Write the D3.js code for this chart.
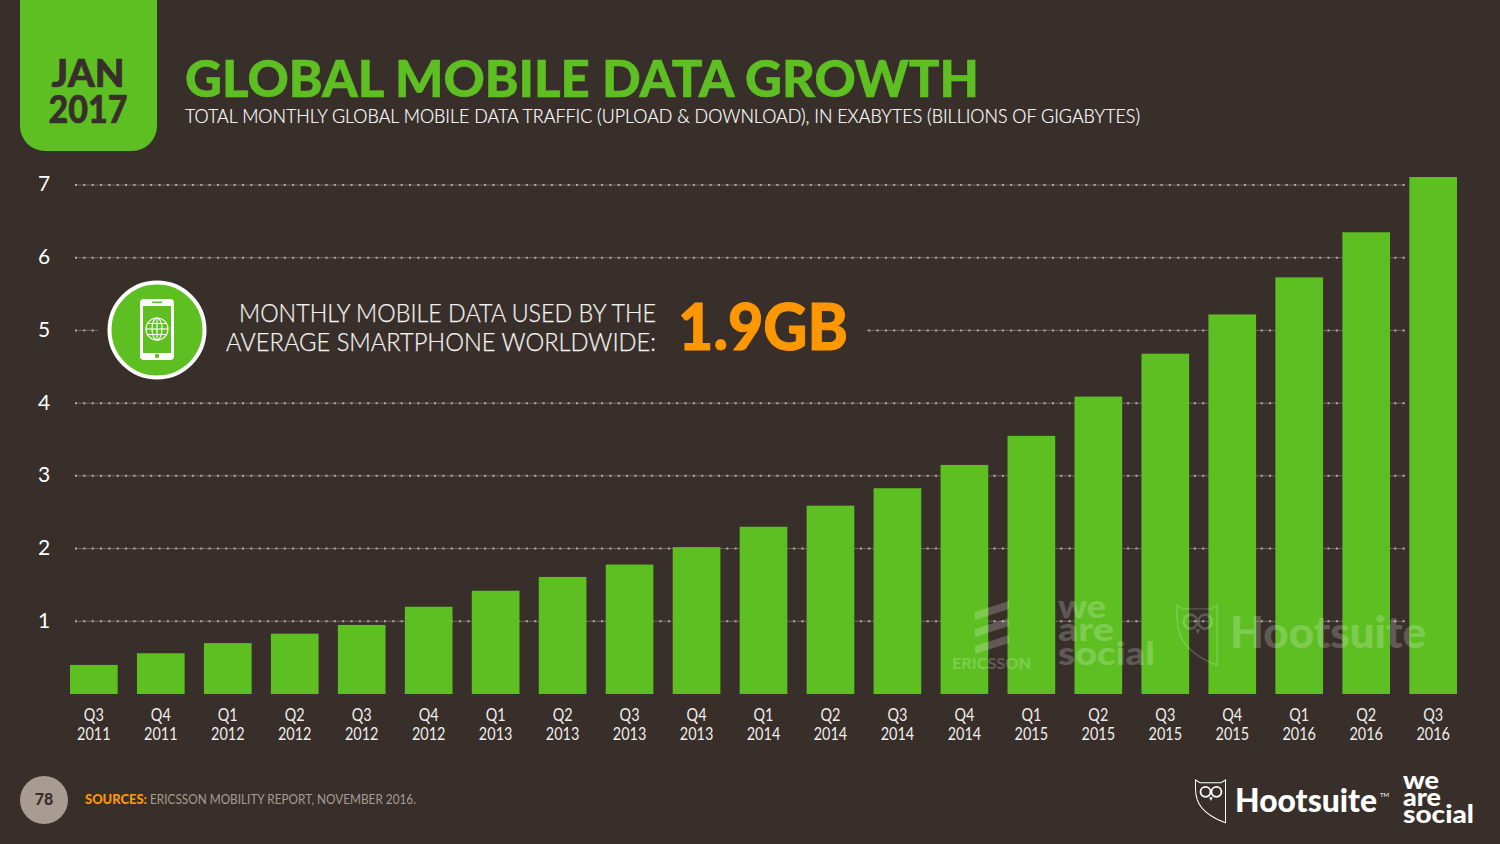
<!DOCTYPE html>
<html>
<head>
<meta charset="utf-8">
<script src="https://cdn.jsdelivr.net/npm/d3@7"></script>
<style>
  html, body { margin: 0; padding: 0; background: #382f2b; overflow: hidden; }
  svg { display: block; }
  text { font-family: Lato, "Open Sans", sans-serif; }
</style>
</head>
<body>
<svg id="chart" width="1500" height="844"></svg>
<script>
const quarters = ["Q3","Q4","Q1","Q2","Q3","Q4","Q1","Q2","Q3","Q4","Q1","Q2","Q3","Q4","Q1","Q2","Q3","Q4","Q1","Q2","Q3"];
const years = ["2011","2011","2012","2012","2012","2012","2013","2013","2013","2013","2014","2014","2014","2014","2015","2015","2015","2015","2016","2016","2016"];
const traffic = [0.4,0.56,0.7,0.83,0.95,1.2,1.42,1.61,1.78,2.02,2.3,2.59,2.83,3.15,3.55,4.09,4.68,5.22,5.73,6.35,7.11];
const yTicks = [1,2,3,4,5,6,7];

const GREEN = "#5ebf23", BG = "#382f2b", ORANGE = "#ff9800", WHITE = "#ffffff";

const svg = d3.select("#chart");
svg.append("rect").attr("width", 1500).attr("height", 844).attr("fill", BG);

const labels = quarters.map((q, i) => q + " " + years[i] + " " + i);
const x = d3.scaleBand().domain(labels).range([70, 1457]).paddingInner(0.288).paddingOuter(0);
const y = d3.scaleLinear().domain([0, 7]).range([694, 185]);

// Gridlines: faint line plus round dots
const grid = svg.append("g");
yTicks.forEach(t => {
    grid.append("line").attr("x1", 75).attr("x2", 1405).attr("y1", y(t)).attr("y2", y(t))
        .attr("stroke", "#6d635d").attr("stroke-width", 1);
    grid.append("line").attr("x1", 75).attr("x2", 1405).attr("y1", y(t)).attr("y2", y(t))
        .attr("stroke", "#b5aaa3").attr("stroke-width", 2)
        .attr("stroke-dasharray", "2 6.35");
});

// Y axis
const yAxis = svg.append("g").attr("transform", "translate(44,-1.5)")
    .call(d3.axisLeft(y).tickValues(yTicks).tickSize(0).tickPadding(0).tickFormat(d3.format("d")));
yAxis.select(".domain").remove();
yAxis.selectAll("text")
    .attr("x", 0).attr("dy", "0.35em").attr("text-anchor", "middle")
    .attr("fill", WHITE).style("font-family", "Lato").style("font-size", "21px");

// Bars
svg.append("g").selectAll("rect").data(traffic).join("rect")
    .attr("x", (d, i) => x(labels[i]))
    .attr("y", d => y(d))
    .attr("width", x.bandwidth())
    .attr("height", d => y(0) - y(d))
    .attr("fill", GREEN);

// X axis, two line labels squeezed a bit because the original face is narrow
const xAxis = svg.append("g").attr("transform", "translate(0,694)")
    .call(d3.axisBottom(x).tickSize(0).tickFormat(""));
xAxis.select(".domain").remove();
xAxis.selectAll(".tick text").each(function(d, i) {
    const t = d3.select(this).attr("y", 0).attr("dy", 0).attr("fill", "#f1eeec")
        .style("font-family", "Lato").style("font-size", "17px");
    [[quarters[i], 27], [years[i], 46]].forEach(l => {
        const span = t.append("tspan").attr("x", 0).attr("y", l[1]).text(l[0]);
        span.attr("textLength", span.node().getComputedTextLength() * 0.85)
            .attr("lengthAdjust", "spacingAndGlyphs");
    });
});

// Date tab
svg.append("path")
    .attr("d", "M20,0H157V126A25,25 0 0 1 132,151H45A25,25 0 0 1 20,126Z")
    .attr("fill", GREEN);
svg.append("text").attr("x", 88).attr("y", 87).attr("text-anchor", "middle")
    .attr("textLength", 73).attr("lengthAdjust", "spacingAndGlyphs")
    .attr("fill", BG).attr("stroke", BG).attr("stroke-width", 0.6)
    .style("font-weight", 900).style("font-size", "37px").text("JAN");
svg.append("text").attr("x", 88).attr("y", 123).attr("text-anchor", "middle")
    .attr("textLength", 79).attr("lengthAdjust", "spacingAndGlyphs")
    .attr("fill", BG).attr("stroke", BG).attr("stroke-width", 0.6)
    .style("font-weight", 900).style("font-size", "37px").text("2017");

// Title
svg.append("text").attr("x", 185).attr("y", 97)
    .attr("textLength", 794).attr("lengthAdjust", "spacingAndGlyphs")
    .attr("fill", GREEN).attr("stroke", GREEN).attr("stroke-width", 0.6)
    .style("font-weight", 900).style("font-size", "52px")
    .text("GLOBAL MOBILE DATA GROWTH");
svg.append("text").attr("x", 185).attr("y", 123)
    .attr("textLength", 955).attr("lengthAdjust", "spacingAndGlyphs")
    .attr("fill", WHITE).attr("stroke", WHITE).attr("stroke-width", 0.2)
    .style("font-weight", 300).style("font-size", "20px")
    .text("TOTAL MONTHLY GLOBAL MOBILE DATA TRAFFIC (UPLOAD & DOWNLOAD), IN EXABYTES (BILLIONS OF GIGABYTES)");

// Callout, masks the 5 gridline behind it
svg.append("rect").attr("x", 98).attr("y", 280).attr("width", 768).attr("height", 100).attr("fill", BG);

const icon = svg.append("g").attr("transform", "translate(157,330)");
icon.append("circle").attr("r", 47.5).attr("fill", GREEN).attr("stroke", WHITE).attr("stroke-width", 4);
icon.append("rect").attr("x", -17).attr("y", -31).attr("width", 34).attr("height", 61).attr("rx", 4).attr("fill", WHITE);
icon.append("rect").attr("x", -14).attr("y", -24).attr("width", 28).attr("height", 47).attr("fill", GREEN);
icon.append("rect").attr("x", -5).attr("y", -28.5).attr("width", 10).attr("height", 1.5).attr("fill", GREEN);
icon.append("circle").attr("cy", 26).attr("r", 2.2).attr("fill", GREEN);
const globe = icon.append("g").attr("transform", "translate(0,-1)").attr("fill", "none").attr("stroke", WHITE).attr("stroke-width", 1.1);
globe.append("circle").attr("r", 11);
globe.append("ellipse").attr("rx", 5).attr("ry", 11);
globe.append("line").attr("x1", 0).attr("x2", 0).attr("y1", -11).attr("y2", 11);
globe.append("line").attr("x1", -11).attr("x2", 11);
globe.append("line").attr("x1", -9.5).attr("x2", 9.5).attr("y1", -5.5).attr("y2", -5.5);
globe.append("line").attr("x1", -9.5).attr("x2", 9.5).attr("y1", 5.5).attr("y2", 5.5);

svg.append("text").attr("x", 656).attr("y", 322).attr("text-anchor", "end")
    .attr("textLength", 417).attr("lengthAdjust", "spacingAndGlyphs")
    .attr("fill", "#f4f1ef").attr("stroke", "#f4f1ef").attr("stroke-width", 0.25)
    .style("font-weight", 300).style("font-size", "26px")
    .text("MONTHLY MOBILE DATA USED BY THE");
svg.append("text").attr("x", 656).attr("y", 351).attr("text-anchor", "end")
    .attr("textLength", 430).attr("lengthAdjust", "spacingAndGlyphs")
    .attr("fill", "#f4f1ef").attr("stroke", "#f4f1ef").attr("stroke-width", 0.25)
    .style("font-weight", 300).style("font-size", "26px")
    .text("AVERAGE SMARTPHONE WORLDWIDE:");
svg.append("text").attr("x", 678).attr("y", 350)
    .attr("textLength", 170).attr("lengthAdjust", "spacingAndGlyphs")
    .attr("fill", ORANGE).attr("stroke", ORANGE).attr("stroke-width", 1)
    .style("font-weight", 900).style("font-size", "64px").text("1.9GB");

// Stacked logo wording, one text element with a span per line
function stackedLogo(parent, xPos, lines, size) {
    const t = parent.append("text").style("font-weight", 900).style("font-size", size + "px");
    lines.forEach(l => {
        t.append("tspan").attr("x", xPos).attr("y", l[1]).attr("textLength", l[2])
            .attr("lengthAdjust", "spacingAndGlyphs").text(l[0]);
    });
    return t;
}

function owl(g) {
    g.append("path").attr("d", "M0,0L5,3H28L33,0V47Q8,38 2,22Q0,16 0,10Z")
        .attr("fill", "none").attr("stroke", WHITE).attr("stroke-width", 1.1);
    g.append("circle").attr("cx", 11).attr("cy", 13).attr("r", 5.5).attr("fill", "none").attr("stroke", WHITE).attr("stroke-width", 2);
    g.append("circle").attr("cx", 23).attr("cy", 13).attr("r", 5.5).attr("fill", "none").attr("stroke", WHITE).attr("stroke-width", 2);
    g.append("path").attr("d", "M15,19L19,19L17,23Z").attr("fill", WHITE);
}

// Watermarks
const mark = svg.append("g").attr("fill", WHITE).attr("opacity", 0.2);
[0, 17, 34].forEach(dy => {
    mark.append("path").attr("d", `M975,${612 + dy}L1009,${601 + dy}V${609 + dy}L975,${620 + dy}Z`);
});
mark.append("text").attr("x", 952).attr("y", 669).attr("textLength", 79).attr("lengthAdjust", "spacingAndGlyphs")
    .style("font-weight", 700).style("font-size", "15px").text("ERICSSON");
stackedLogo(mark, 1058, [["we", 618, 48], ["are", 641, 56], ["social", 665, 97]], 32);
mark.append("text").attr("x", 1230).attr("y", 648).attr("textLength", 196).attr("lengthAdjust", "spacingAndGlyphs")
    .style("font-weight", 900).style("font-size", "44px").text("Hootsuite");
owl(svg.append("g").attr("transform", "translate(1177,605) scale(1.22,1.28)").attr("opacity", 0.2));

// Footer
svg.append("circle").attr("cx", 44).attr("cy", 800).attr("r", 24).attr("fill", "#a89b92");
svg.append("text").attr("x", 44).attr("y", 804.5).attr("text-anchor", "middle")
    .attr("fill", BG).style("font-weight", 900).style("font-size", "16px").text("78");
svg.append("text").attr("x", 85).attr("y", 804)
    .attr("fill", ORANGE).style("font-weight", 900).style("font-size", "12.5px")
    .attr("textLength", 62).attr("lengthAdjust", "spacingAndGlyphs").text("SOURCES:");
svg.append("text").attr("x", 150).attr("y", 804)
    .attr("fill", "#a89b92").style("font-weight", 400).style("font-size", "12.5px")
    .attr("textLength", 266).attr("lengthAdjust", "spacingAndGlyphs")
    .text("ERICSSON MOBILITY REPORT, NOVEMBER 2016.");

// Footer logos
owl(svg.append("g").attr("transform", "translate(1195.5,780) scale(0.91)"));
svg.append("text").attr("x", 1235).attr("y", 812).attr("textLength", 142).attr("lengthAdjust", "spacingAndGlyphs")
    .attr("fill", WHITE).style("font-weight", 900).style("font-size", "33px").text("Hootsuite");
svg.append("text").attr("x", 1380).attr("y", 797).attr("fill", WHITE).style("font-size", "6px").text("TM");
stackedLogo(svg.append("g").attr("fill", WHITE), 1403, [["we", 789, 36], ["are", 806, 38], ["social", 823, 71]], 25);
</script>
</body>
</html>
